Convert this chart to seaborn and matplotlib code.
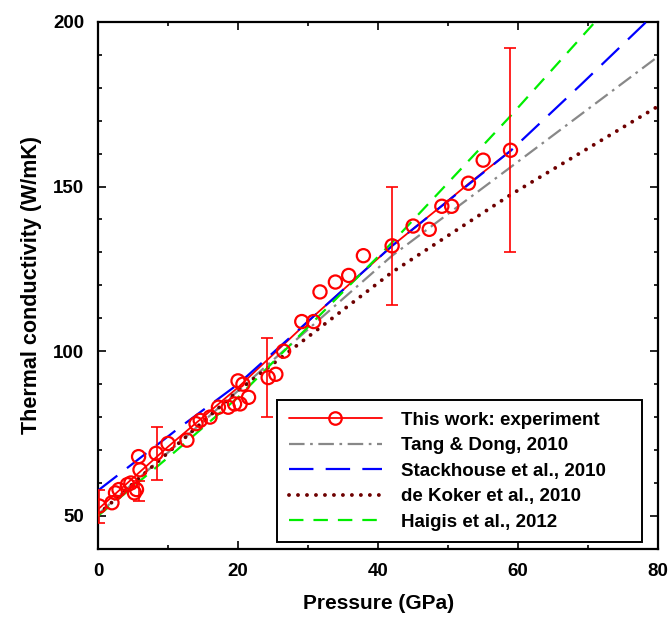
import numpy as np
import pandas as pd
import matplotlib
matplotlib.use("Agg")
import matplotlib.pyplot as plt
from matplotlib.lines import Line2D
from matplotlib.ticker import MultipleLocator
import seaborn as sns

# measured points (this work)
exp_p = [0.2, 2.0, 2.5, 3.0, 4.2, 4.7, 5.2, 5.5, 5.8, 6.0, 8.3, 10.0, 12.7, 14.0,
         14.6, 16.0, 17.2, 18.6, 19.5, 20.0, 20.3, 20.7, 21.5, 24.3, 25.4, 26.5,
         29.1, 30.8, 31.7, 33.9, 35.8, 37.9, 42.0, 45.0, 47.3, 49.1, 50.5, 52.9,
         55.0, 58.9]
exp_k = [53, 54, 57, 58, 59.5, 60, 57, 58, 68, 64, 69, 72, 73, 78,
         79, 80, 83, 83, 84, 91, 84, 90, 86, 92, 93, 100,
         109, 109, 118, 121, 123, 129, 132, 138, 137, 144, 144, 151,
         158, 161]

# error bars
err_p = [0.1, 5.9, 8.4, 24.1, 42.0, 58.9]
err_k = [53, 57.5, 69, 92, 132, 161]
err_d = [5, 3, 8, 12, 18, 31]

# red line through the experiment
fit_p = [0, 10, 20, 31, 42, 49, 53, 59]
fit_k = [52, 71, 89, 111, 132, 144, 151, 161]

# literature curves
tang_p = [0, 20, 42, 59, 80]
tang_k = [50.5, 88, 129, 156, 189.5]
stack_p = [0, 11.5, 20, 42, 59, 69, 78.3]
stack_k = [57.7, 76.6, 90, 132, 161, 181, 200]
koker_p = [0, 20, 42, 59, 80]
koker_k = [50.4, 88, 124, 147.6, 174.4]
haigis_p = [0, 11, 20, 42, 58.6, 71]
haigis_k = [50, 69.5, 86, 133, 170.7, 200]

TANG_LS = (0, (7, 2.5, 1.2, 2.5))
STACK_LS = (0, (11, 5.5))
KOKER_LS = (0, (0.01, 2.3))
HAIGIS_LS = (0, (6.5, 4.5))


def main():
    sns.set_theme(style="ticks")
    plt.rcParams["font.family"] = ["Liberation Sans", "DejaVu Sans"]
    plt.rcParams["font.weight"] = "bold"
    plt.rcParams["text.color"] = "black"
    plt.rcParams["axes.labelcolor"] = "black"
    plt.rcParams["xtick.color"] = "black"
    plt.rcParams["ytick.color"] = "black"

    fig = plt.figure(figsize=(6.71, 6.23), dpi=100)
    ax = fig.add_axes([0.146, 0.119, 0.835, 0.846])

    sns.lineplot(x=fit_p, y=fit_k, ax=ax, color="red", lw=1.3, sort=False,
                 estimator=None, zorder=2)
    sns.lineplot(x=tang_p, y=tang_k, ax=ax, color="#888888", lw=1.6,
                 estimator=None, zorder=3, linestyle=TANG_LS)
    sns.lineplot(x=stack_p, y=stack_k, ax=ax, color="#0000ff", lw=1.6,
                 estimator=None, zorder=3, linestyle=STACK_LS)
    sns.lineplot(x=koker_p, y=koker_k, ax=ax, color="#6e0000", lw=2.8,
                 estimator=None, zorder=3, linestyle=KOKER_LS,
                 dash_capstyle="round")
    sns.lineplot(x=haigis_p, y=haigis_k, ax=ax, color="#00ee00", lw=1.6,
                 estimator=None, zorder=3, linestyle=HAIGIS_LS)

    ax.errorbar(err_p, err_k, yerr=err_d, fmt="none", ecolor="red",
                elinewidth=1.2, capsize=4.5, capthick=1.2, zorder=4)
    sns.scatterplot(x=exp_p, y=exp_k, ax=ax, marker="o", s=90,
                    facecolors="none", edgecolor="red", linewidth=1.6,
                    zorder=5)

    ax.set_xlim(0, 80)
    ax.set_ylim(40, 200)
    ax.xaxis.set_major_locator(MultipleLocator(20))
    ax.xaxis.set_minor_locator(MultipleLocator(10))
    ax.set_yticks([50, 100, 150, 200])
    ax.yaxis.set_minor_locator(MultipleLocator(10))
    ax.tick_params(which="both", direction="in", top=True, right=True,
                   color="black", width=1.2)
    ax.tick_params(which="major", length=6, labelsize=13.5, pad=10,
                   labelcolor="black")
    ax.tick_params(which="minor", length=3)
    for lab in ax.get_xticklabels() + ax.get_yticklabels():
        lab.set_fontweight("bold")
    for sp in ax.spines.values():
        sp.set_linewidth(1.6)
        sp.set_color("black")

    ax.set_xlabel("Pressure (GPa)", fontsize=15, fontweight="bold",
                  labelpad=10, color="black")
    ax.set_ylabel("Thermal conductivity (W/mK)", fontsize=15.5,
                  fontweight="bold", labelpad=8, color="black")

    handles = [
        Line2D([], [], color="red", lw=1.3, marker="o", mfc="none", ms=9,
               mew=1.6),
        Line2D([], [], color="#888888", lw=1.6, linestyle=TANG_LS),
        Line2D([], [], color="#0000ff", lw=1.6, linestyle=STACK_LS),
        Line2D([], [], color="#6e0000", lw=2.8, linestyle=KOKER_LS,
               dash_capstyle="round"),
        Line2D([], [], color="#00ee00", lw=1.6, linestyle=HAIGIS_LS),
    ]
    labels = ["This work: experiment", "Tang & Dong, 2010",
              "Stackhouse et al., 2010", "de Koker et al., 2010",
              "Haigis et al., 2012"]
    leg = ax.legend(handles, labels, loc="lower left",
                    bbox_to_anchor=(0.32, 0.013, 0.651, 0.269), mode="expand",
                    borderaxespad=0, fancybox=False, edgecolor="black",
                    framealpha=1, handlelength=5.0, handletextpad=1.0,
                    labelspacing=0.45, borderpad=0.6,
                    prop={"size": 13.5, "weight": "bold"})
    leg.get_frame().set_linewidth(1.4)
    for t in leg.get_texts():
        t.set_color("black")

    fig.savefig("out.png", dpi=100)


if __name__ == "__main__":
    main()
